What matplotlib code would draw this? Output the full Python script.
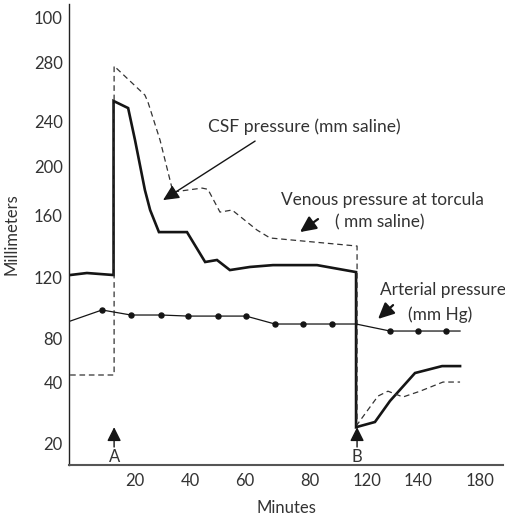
# CSF / venous / arterial pressure after jugular compression (hand-drawn textbook axes)

import numpy as np
import matplotlib
matplotlib.use('Agg')
import matplotlib.pyplot as plt
from matplotlib.scale import FuncScale


# Tick values and the labels printed at them (the original figure's axes are not uniform)
x_tick_values = [20, 40, 60, 80, 120, 140, 180]
x_tick_labels = ['20', '40', '60', '80', '120', '140', '180']
y_tick_values = [300, 280, 240, 200, 160, 120, 80, 40, 20]
y_tick_labels = ['100', '280', '240', '200', '160', '120', '80', '40', '20']

# CSF pressure (mm saline), thick solid line
csf_min = [-3.6, 2.5, 12.2, 12.2, 17.5, 20.0, 23.6, 25.5, 28.7, 38.9, 45.5, 49.8,
           54.5, 61.5, 68.6, 84.9, 112.3, 112.3, 123.1, 129.0, 138.8, 155.5, 167.1]
csf_mm = [121.3, 122.6, 121.3, 253.6, 248.8, 223.1, 180.4, 164.1, 149.0, 149.0, 129.7, 131.0,
          124.5, 126.5, 127.7, 127.7, 123.2, 25.2, 26.9, 33.8, 48.2, 54.5, 54.5]

# Venous pressure at torcula (mm saline), dashed line
ven_min = [-3.6, 12.4, 12.4, 23.6, 24.7, 29.1, 33.8, 44.4, 46.5, 50.9, 55.3, 63.7, 67.7,
           113.0, 113.0, 124.3, 128.2, 134.1, 141.3, 156.1, 167.1]
ven_mm = [46.4, 46.4, 277.3, 257.6, 252.9, 223.1, 178.8, 182.0, 181.0, 162.4, 164.1, 150.3, 145.2,
          140.0, 26.0, 35.4, 37.0, 35.1, 37.0, 40.0, 40.0]

# Arterial pressure (mm Hg), thin line with dots
art_min = [-3.6, 8.0, 18.5, 29.5, 39.3, 50.2, 60.3, 69.2, 77.8, 95.4, 112.3, 129.0, 140.0, 158.1, 167.1]
art_mm = [91.1, 98.4, 95.1, 95.1, 94.4, 94.4, 94.4, 89.2, 89.2, 89.2, 89.2, 84.6, 84.6, 84.6, 84.6]
art_dots = [1, 2, 3, 4, 5, 6, 7, 8, 9, 11, 12, 13]

# Events: A = start of compression, B = release
event_min = [12.4, 113.0]
event_names = ['A', 'B']


# piecewise-linear scales so the labels land where the original drew them
x_anchor_val = [0, 20, 40, 60, 80, 120, 140, 180]
x_anchor_pos = [80, 135, 190, 245, 310, 367, 418, 480]
y_anchor_val = [20, 40, 80, 120, 160, 200, 240, 280, 300]
y_anchor_pos = [-443, -382, -338, -277, -215, -166, -121, -62, -17]


def extend(vals, pos):
    vals, pos = list(vals), list(pos)
    s0 = (pos[1] - pos[0]) / (vals[1] - vals[0])
    s1 = (pos[-1] - pos[-2]) / (vals[-1] - vals[-2])
    vals = [vals[0] - 1000] + vals + [vals[-1] + 1000]
    pos = [pos[0] - 1000 * s0] + pos + [pos[-1] + 1000 * s1]
    return np.array(vals, float), np.array(pos, float)


xv, xp = extend(x_anchor_val, x_anchor_pos)
yv, yp = extend(y_anchor_val, y_anchor_pos)

plt.rcParams['font.family'] = ['Lato', 'DejaVu Sans']
plt.rcParams['font.size'] = 12
txt = '#333333'

fig = plt.figure(figsize=(5.06, 5.16), dpi=100)
ax = fig.add_axes([69 / 506, 51 / 516, 434 / 506, 461 / 516])

ax.set_xscale(FuncScale(ax, (lambda v: np.interp(v, xv, xp), lambda p: np.interp(p, xp, xv))))
ax.set_yscale(FuncScale(ax, (lambda v: np.interp(v, yv, yp), lambda p: np.interp(p, yp, yv))))

ax.plot(csf_min, csf_mm, color='#151515', lw=1.9, solid_joinstyle='miter')
ax.plot(ven_min, ven_mm, color='#333333', lw=0.9, ls=(0, (4.5, 3)))
ax.plot(art_min, art_mm, color='#151515', lw=0.9, marker='o', ms=3.6, markevery=art_dots)

ax.set_xlim(-4.0, 194.8)
ax.set_ylim(12.8, 305.8)

ax.set_xticks(x_tick_values)
ax.set_xticklabels(x_tick_labels)
ax.set_yticks(y_tick_values)
ax.set_yticklabels(y_tick_labels)
ax.tick_params(length=0, labelsize=12, colors=txt)
ax.tick_params(axis='x', pad=6)
ax.tick_params(axis='y', pad=4.5)

for side in ['top', 'right']:
    ax.spines[side].set_visible(False)
ax.spines['left'].set_color('#222222')
ax.spines['left'].set_linewidth(1.0)
ax.spines['bottom'].set_color('#555555')
ax.spines['bottom'].set_linewidth(1.5)

ax.set_xlabel('Minutes', fontsize=12, color=txt, labelpad=8)
ax.set_ylabel('Millimeters', fontsize=12, color=txt, labelpad=10)

# event arrows under the curves
for m, name in zip(event_min, event_names):
    ax.annotate('', xy=(m, 25.2), xytext=(m, 18.7),
                arrowprops=dict(arrowstyle='-|>,head_length=0.7,head_width=0.35', color='#151515',
                                lw=1.0, shrinkA=0, shrinkB=0, mutation_scale=12))
    ax.text(m, 15.4, name, ha='center', va='center', fontsize=12, color=txt)

arrow = dict(arrowstyle='-|>,head_length=0.8,head_width=0.38', color='#151515',
             lw=1.0, shrinkA=0, shrinkB=0, mutation_scale=12)

ax.text(78.2, 234.7, 'CSF pressure (mm saline)', ha='center', va='center', fontsize=12.6, color=txt)
ax.annotate('', xy=(30.2, 172.2), xytext=(63.1, 222.2), arrowprops=arrow)

ax.text(125.9, 172.2, 'Venous pressure at torcula', ha='center', va='center', fontsize=12.4, color=txt)
ax.text(125.1, 155.5, '( mm saline)', ha='center', va='center', fontsize=12.4, color=txt)
ax.annotate('', xy=(76.9, 149.0), xytext=(85.6, 157.4), arrowprops=dict(arrow, lw=1.6))

ax.text(156.1, 111.5, 'Arterial pressure', ha='center', va='center', fontsize=12.4, color=txt)
ax.text(154.2, 95.1, '(mm Hg)', ha='center', va='center', fontsize=12.4, color=txt)
ax.annotate('', xy=(124.3, 92.5), xytext=(130.2, 101.6), arrowprops=dict(arrow, lw=1.6))

fig.savefig('out.png', dpi=100)
